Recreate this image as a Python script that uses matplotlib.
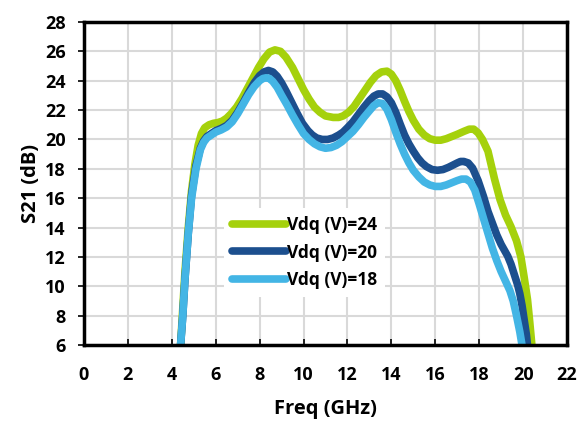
import matplotlib
matplotlib.use("Agg")
import matplotlib.pyplot as plt

plt.rcParams['font.family'] = ['Open Sans', 'DejaVu Sans']
plt.rcParams['font.weight'] = 'bold'

# Vdq = 24 V
f24 = [4.4, 4.5, 4.6, 4.75, 4.9, 5.05, 5.2, 5.35, 5.5, 5.7, 5.9, 6.1, 6.3, 6.5, 6.7, 6.95, 7.2, 7.45,
       7.7, 7.95, 8.2, 8.45, 8.7, 8.95, 9.2, 9.5, 9.8, 10.0, 10.25, 10.5, 10.75, 11.0, 11.35, 11.6,
       11.8, 12.05, 12.3, 12.55, 12.8, 13.05, 13.3, 13.55, 13.8, 14.0, 14.2, 14.4, 14.6, 14.8, 15.0,
       15.25, 15.5, 15.75, 16.0, 16.25, 16.5, 16.75, 17.0, 17.3, 17.55, 17.75, 17.95, 18.15, 18.4,
       18.7, 18.95, 19.2, 19.45, 19.7, 19.9, 20.05, 20.2, 20.3, 20.4]
s24 = [6.0, 8.5, 11.0, 14.0, 16.5, 18.3, 19.6, 20.4, 20.8, 21.0, 21.1, 21.15, 21.25, 21.45, 21.75, 22.2, 22.8, 23.5,
       24.2, 24.9, 25.5, 25.95, 26.1, 26.0, 25.6, 24.9, 24.0, 23.4, 22.75, 22.2, 21.85, 21.6, 21.5, 21.5,
       21.6, 21.85, 22.25, 22.8, 23.35, 23.9, 24.35, 24.6, 24.65, 24.45, 24.0, 23.35, 22.6, 21.9, 21.3,
       20.7, 20.3, 20.05, 19.95, 19.95, 20.05, 20.2, 20.35, 20.55, 20.7, 20.7, 20.45, 20.0, 19.2,
       17.3, 15.9, 14.85, 14.05, 13.1, 12.0, 10.6, 9.1, 7.6, 6.0]

# Vdq = 20 V
f20 = [4.4, 4.5, 4.6, 4.75, 4.9, 5.1, 5.3, 5.45, 5.6, 5.8, 6.0, 6.25, 6.5, 6.75, 7.0, 7.25, 7.5, 7.75,
       8.0, 8.2, 8.4, 8.6, 8.8, 9.0, 9.2, 9.45, 9.7, 9.95, 10.2, 10.4, 10.6, 10.85, 11.1, 11.35, 11.6,
       11.8, 12.0, 12.25, 12.5, 12.75, 13.0, 13.2, 13.4, 13.6, 13.8, 14.0, 14.2, 14.4, 14.6, 14.8,
       15.0, 15.2, 15.4, 15.6, 15.85, 16.1, 16.35, 16.6, 16.8, 17.0, 17.15, 17.3, 17.5, 17.7, 17.95,
       18.2, 18.4, 18.6, 18.8, 19.0, 19.15, 19.3, 19.45, 19.6, 19.75, 19.85, 19.95, 20.05, 20.15, 20.2]
s20 = [6.0, 8.0, 10.5, 13.6, 16.2, 18.2, 19.4, 19.9, 20.2, 20.4, 20.6, 20.75, 20.95, 21.3, 21.85, 22.5, 23.2, 23.85,
       24.35, 24.6, 24.7, 24.6, 24.3, 23.85, 23.3, 22.55, 21.8, 21.1, 20.6, 20.3, 20.1, 20.0, 20.0, 20.1, 20.3,
       20.5, 20.8, 21.2, 21.7, 22.2, 22.65, 22.95, 23.1, 23.1, 22.9, 22.5, 21.85, 21.05, 20.3, 19.7,
       19.2, 18.75, 18.4, 18.15, 17.95, 17.9, 17.95, 18.1, 18.25, 18.4, 18.5, 18.5, 18.4, 18.05, 17.2,
       16.1, 15.1, 14.3, 13.5, 12.85, 12.45, 12.05, 11.5, 10.8, 10.1, 9.5, 8.7, 7.7, 6.7, 6.0]

# Vdq = 18 V
f18 = [4.4, 4.5, 4.6, 4.75, 4.9, 5.1, 5.3, 5.45, 5.6, 5.8, 6.0, 6.25, 6.5, 6.75, 7.0, 7.25, 7.5, 7.75,
       8.0, 8.15, 8.3, 8.45, 8.6, 8.8, 9.0, 9.25, 9.5, 9.75, 10.0, 10.25, 10.5, 10.75, 11.0, 11.25, 11.5,
       11.75, 12.0, 12.25, 12.5, 12.75, 13.0, 13.2, 13.4, 13.6, 13.8, 14.0, 14.2, 14.4, 14.6, 14.8,
       15.0, 15.25, 15.5, 15.75, 16.0, 16.25, 16.5, 16.75, 17.0, 17.2, 17.4, 17.6, 17.8, 18.0,
       18.2, 18.4, 18.6, 18.8, 19.0, 19.2, 19.4, 19.55, 19.7, 19.85, 19.95]
s18 = [6.0, 8.0, 10.5, 13.6, 16.0, 18.0, 19.3, 19.8, 20.1, 20.3, 20.5, 20.65, 20.85, 21.2, 21.75, 22.4, 23.05, 23.6,
       24.0, 24.15, 24.2, 24.15, 23.95, 23.55, 23.0, 22.35, 21.65, 21.0, 20.4, 20.0, 19.7, 19.5, 19.4, 19.45, 19.6,
       19.85, 20.2, 20.55, 21.0, 21.5, 21.95, 22.3, 22.5, 22.45, 22.05, 21.35, 20.5, 19.7, 19.0, 18.4,
       17.9, 17.45, 17.1, 16.9, 16.8, 16.8, 16.9, 17.05, 17.2, 17.3, 17.3, 17.1, 16.55, 15.6,
       14.6, 13.6, 12.6, 11.75, 11.0, 10.35, 9.7, 9.0, 8.0, 6.9, 6.0]

labels = ['Vdq (V)=24', 'Vdq (V)=20', 'Vdq (V)=18']
colors = ['#A5D10C', '#1C4F8E', '#43B5E5']
xticks = list(range(0, 23, 2))
yticks = list(range(6, 29, 2))

fig = plt.figure(figsize=(5.8, 4.23), dpi=100)
ax = fig.add_axes([0.1448, 0.1844, 0.8328, 0.7636])

for fx, sy, lab, c in zip([f24, f20, f18], [s24, s20, s18], labels, colors):
    ax.plot(fx, sy, color=c, lw=5.5, label=lab, solid_joinstyle='round', solid_capstyle='round')

ax.set_xlim(0, 22)
ax.set_ylim(6, 28)
ax.set_xticks(xticks)
ax.set_yticks(yticks)
ax.grid(True, color='#D9D9D9', lw=1.5)
ax.set_axisbelow(True)
for sp in ax.spines.values():
    sp.set_linewidth(2.5)
    sp.set_color('black')
ax.tick_params(axis='x', direction='in', length=4, width=1.2, labelsize=13, pad=15)
ax.tick_params(axis='y', direction='out', length=4, width=1.2, labelsize=13, pad=9)
for t in ax.get_xticklabels() + ax.get_yticklabels():
    t.set_fontweight('bold')
ax.set_xlabel('Freq (GHz)', fontsize=14.5, fontweight='bold', labelpad=11)
ax.set_ylabel('S21 (dB)', fontsize=14.5, fontweight='bold', labelpad=3)

leg = ax.legend(loc='lower left', bbox_to_anchor=(0.29, 0.149), frameon=True,
                fancybox=False, edgecolor='none', facecolor='white', framealpha=1,
                prop={'weight': 'bold', 'size': 12.5}, handlelength=3.1, handletextpad=0.1,
                labelspacing=0.55, borderpad=0.45, borderaxespad=0)

fig.savefig('out.png', dpi=100)
